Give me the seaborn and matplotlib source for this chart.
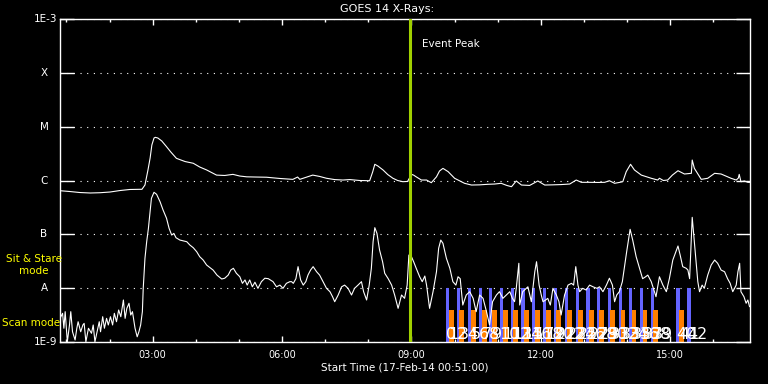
import matplotlib
matplotlib.use("Agg")
import matplotlib.pyplot as plt
import matplotlib.transforms as mtransforms
from matplotlib.ticker import FixedLocator, NullLocator
import seaborn as sns

# ---------------- data ----------------
# GOES 14 long channel (1-8 A), time in hours of 17-Feb-2014, flux in W/m^2
long_time = [0.85, 1.08, 1.31, 1.55, 1.78, 2.01, 2.24, 2.47, 2.70, 2.75, 2.82, 2.89, 2.94, 2.98,
             3.03, 3.06, 3.12, 3.21, 3.32, 3.42, 3.55, 3.75, 3.94, 4.09, 4.25, 4.48, 4.67, 4.86,
             5.02, 5.18, 5.39, 5.64, 5.95, 6.25, 6.36, 6.41, 6.71, 6.87, 7.03, 7.22, 7.41, 7.57,
             7.80, 8.03, 8.10, 8.15, 8.22, 8.34, 8.45, 8.57, 8.68, 8.80, 8.91, 9.00, 9.05, 9.11,
             9.23, 9.35, 9.46, 9.58, 9.65, 9.73, 9.85, 10.00, 10.23, 10.39, 10.58, 10.77, 10.93,
             11.08, 11.21, 11.32, 11.43, 11.55, 11.74, 11.93, 12.09, 12.27, 12.47, 12.67, 12.82,
             12.94, 13.13, 13.32, 13.48, 13.59, 13.71, 13.82, 13.90, 13.98, 14.08, 14.17, 14.33,
             14.56, 14.71, 14.75, 14.84, 14.94, 15.05, 15.18, 15.33, 15.49, 15.51, 15.56, 15.72,
             15.87, 16.03, 16.18, 16.41, 16.53, 16.58, 16.60, 16.64, 16.72, 16.80, 16.84]
long_flux = [6.46e-7, 6.24e-7, 5.98e-7, 5.86e-7, 5.93e-7, 6.11e-7, 6.51e-7, 6.81e-7, 6.86e-7, 6.86e-7,
             8.24e-7, 1.57e-6, 2.62e-6, 4.56e-6, 6.15e-6, 6.34e-6, 6.15e-6, 5.42e-6, 4.25e-6, 3.38e-6,
             2.58e-6, 2.25e-6, 2.09e-6, 1.78e-6, 1.57e-6, 1.26e-6, 1.24e-6, 1.30e-6, 1.21e-6, 1.17e-6,
             1.16e-6, 1.15e-6, 1.09e-6, 1.05e-6, 1.16e-6, 1.05e-6, 1.26e-6, 1.19e-6, 1.10e-6, 1.04e-6,
             1.02e-6, 1.04e-6, 1.00e-6, 9.9e-7, 1.44e-6, 2.00e-6, 1.86e-6, 1.57e-6, 1.29e-6, 1.10e-6,
             1.00e-6, 9.5e-7, 9.6e-7, 1.30e-6, 1.26e-6, 1.17e-6, 1.02e-6, 1.02e-6, 9.1e-7, 1.17e-6,
             1.50e-6, 1.68e-6, 1.46e-6, 1.10e-6, 8.87e-7, 8.24e-7, 8.3e-7, 8.5e-7, 8.6e-7, 8.87e-7,
             8.1e-7, 7.67e-7, 9.8e-7, 8.24e-7, 8.1e-7, 9.8e-7, 8.24e-7, 8.3e-7, 8.4e-7, 8.6e-7,
             1.02e-6, 9.25e-7, 9.25e-7, 9.2e-7, 9.25e-7, 9.9e-7, 8.87e-7, 9.2e-7, 9.5e-7, 1.46e-6,
             2.00e-6, 1.57e-6, 1.26e-6, 1.10e-6, 1.02e-6, 1.10e-6, 1.00e-6, 1.02e-6, 1.26e-6, 1.52e-6,
             1.32e-6, 1.36e-6, 2.40e-6, 1.68e-6, 1.05e-6, 1.10e-6, 1.36e-6, 1.32e-6, 1.10e-6, 1.02e-6,
             1.11e-6, 1.30e-6, 9.5e-7, 9.8e-7, 9.25e-7, 9.2e-7]

# GOES 14 short channel (0.5-4 A)
short_time = [0.85, 0.91, 0.94, 0.97, 1.02, 1.07, 1.10, 1.14, 1.20, 1.24, 1.27, 1.33, 1.38, 1.41,
              1.45, 1.51, 1.58, 1.62, 1.66, 1.71, 1.76, 1.79, 1.84, 1.88, 1.93, 1.97, 2.02, 2.07,
              2.11, 2.16, 2.21, 2.26, 2.32, 2.36, 2.40, 2.45, 2.49, 2.53, 2.59, 2.64, 2.68, 2.72,
              2.76, 2.78, 2.82, 2.86, 2.90, 2.94, 2.97, 3.03, 3.09, 3.17, 3.24, 3.32, 3.38, 3.44,
              3.49, 3.54, 3.63, 3.79, 3.86, 3.94, 4.02, 4.09, 4.17, 4.25, 4.33, 4.40, 4.49, 4.60,
              4.67, 4.75, 4.81, 4.87, 4.94, 5.02, 5.08, 5.14, 5.19, 5.25, 5.31, 5.37, 5.44, 5.52,
              5.60, 5.68, 5.79, 5.87, 5.95, 6.02, 6.10, 6.18, 6.22, 6.26, 6.32, 6.37, 6.43, 6.49,
              6.55, 6.60, 6.66, 6.72, 6.80, 6.87, 6.95, 7.03, 7.11, 7.17, 7.22, 7.30, 7.38, 7.45,
              7.53, 7.61, 7.68, 7.76, 7.84, 7.89, 7.96, 8.02, 8.07, 8.11, 8.15, 8.20, 8.26, 8.33,
              8.38, 8.46, 8.54, 8.61, 8.69, 8.77, 8.84, 8.90, 8.94, 9.00, 9.05, 9.11, 9.19, 9.25,
              9.31, 9.35, 9.42, 9.50, 9.58, 9.63, 9.68, 9.73, 9.81, 9.89, 9.96, 10.03, 10.08, 10.13,
              10.19, 10.27, 10.35, 10.43, 10.50, 10.58, 10.66, 10.74, 10.81, 10.88, 10.97, 11.04,
              11.12, 11.20, 11.28, 11.34, 11.39, 11.43, 11.49, 11.51, 11.58, 11.70, 11.78, 11.86,
              11.90, 11.96, 12.01, 12.05, 12.11, 12.16, 12.22, 12.28, 12.36, 12.42, 12.47, 12.55,
              12.63, 12.71, 12.76, 12.81, 12.86, 12.90, 12.97, 13.05, 13.13, 13.21, 13.30, 13.36,
              13.44, 13.52, 13.59, 13.66, 13.71, 13.76, 13.82, 13.89, 13.94, 13.99, 14.07, 14.13,
              14.21, 14.29, 14.36, 14.43, 14.48, 14.56, 14.67, 14.75, 14.83, 14.91, 14.98, 15.06,
              15.18, 15.23, 15.29, 15.37, 15.41, 15.45, 15.51, 15.56, 15.60, 15.64, 15.68, 15.74,
              15.79, 15.87, 15.95, 16.03, 16.10, 16.18, 16.26, 16.33, 16.39, 16.45, 16.53, 16.57,
              16.61, 16.64, 16.71, 16.76, 16.80, 16.84]
short_flux = [2.75e-9, 3.41e-9, 1.80e-9, 3.66e-9, 1.01e-9, 2.07e-9, 3.66e-9, 1.55e-9, 1.09e-9, 1.80e-9,
              2.38e-9, 1.55e-9, 2.07e-9, 2.22e-9, 1.01e-9, 1.80e-9, 1.45e-9, 2.07e-9, 1.01e-9, 1.55e-9,
              2.38e-9, 1.55e-9, 2.95e-9, 1.80e-9, 2.75e-9, 2.07e-9, 2.95e-9, 2.07e-9, 3.41e-9, 2.38e-9,
              3.93e-9, 2.95e-9, 6.03e-9, 2.75e-9, 4.22e-9, 5.24e-9, 3.17e-9, 3.66e-9, 1.80e-9, 1.25e-9,
              1.55e-9, 2.07e-9, 3.66e-9, 9.93e-9, 3.58e-8, 7.29e-8, 1.29e-7, 2.63e-7, 4.67e-7, 6.04e-7,
              5.54e-7, 4.04e-7, 2.83e-7, 1.99e-7, 1.29e-7, 9.70e-8, 1.04e-7, 8.65e-8, 7.83e-8, 7.29e-8,
              6.34e-8, 5.64e-8, 4.75e-8, 3.84e-8, 3.33e-8, 2.69e-8, 2.40e-8, 2.17e-8, 1.75e-8, 1.48e-8,
              1.53e-8, 1.75e-8, 2.17e-8, 2.34e-8, 1.89e-8, 1.63e-8, 1.23e-8, 1.42e-8, 1.14e-8, 1.42e-8,
              1.06e-8, 1.29e-8, 9.93e-9, 1.32e-8, 1.53e-8, 1.50e-8, 1.32e-8, 1.06e-8, 1.14e-8, 9.93e-9,
              1.23e-8, 1.32e-8, 1.32e-8, 1.23e-8, 1.50e-8, 2.51e-8, 1.42e-8, 1.14e-8, 1.32e-8, 1.75e-8,
              2.17e-8, 2.51e-8, 2.02e-8, 1.75e-8, 1.32e-8, 9.93e-9, 8.6e-9, 6.94e-9, 5.60e-9, 7.46e-9,
              1.06e-8, 1.14e-8, 9.93e-9, 7.46e-9, 9.93e-9, 1.14e-8, 1.32e-8, 8.6e-9, 6.03e-9, 1.14e-8,
              2.34e-8, 7.29e-8, 1.33e-7, 1.04e-7, 5.12e-8, 3.10e-8, 1.89e-8, 1.50e-8, 1.14e-8, 7.46e-9,
              4.22e-9, 7.46e-9, 6.47e-9, 1.14e-8, 4.13e-8, 3.84e-8, 3.10e-8, 2.34e-8, 1.63e-8, 1.32e-8,
              1.68e-8, 1.14e-8, 4.22e-9, 8.6e-9, 2.02e-8, 5.50e-8, 7.83e-8, 6.81e-8, 3.58e-8, 2.34e-8,
              1.32e-8, 1.14e-8, 1.63e-8, 1.50e-8, 4.86e-9, 7.46e-9, 8.6e-9, 6.47e-9, 3.66e-9, 7.46e-9,
              6.47e-9, 3.66e-9, 2.07e-9, 5.60e-9, 7.46e-9, 8.6e-9, 6.47e-9, 7.46e-9, 8.6e-9, 6.47e-9,
              5.60e-9, 9.93e-9, 2.90e-8, 4.86e-9, 8.6e-9, 1.06e-8, 5.60e-9, 2.02e-8, 3.10e-8, 1.14e-8,
              7.46e-9, 5.60e-9, 6.03e-9, 6.47e-9, 4.86e-9, 9.93e-9, 7.46e-9, 5.60e-9, 3.17e-9, 7.46e-9,
              1.14e-8, 1.23e-8, 1.14e-8, 2.51e-8, 1.14e-8, 8.6e-9, 9.93e-9, 9.24e-9, 1.14e-8, 1.06e-8,
              9.93e-9, 1.06e-8, 8.6e-9, 1.14e-8, 1.53e-8, 1.14e-8, 5.60e-9, 7.46e-9, 8.6e-9, 1.32e-8,
              2.51e-8, 4.75e-8, 1.24e-7, 7.83e-8, 3.84e-8, 2.34e-8, 1.50e-8, 1.63e-8, 1.75e-8, 1.32e-8,
              6.94e-9, 1.63e-8, 1.14e-8, 8.6e-9, 1.50e-8, 3.33e-8, 6.07e-8, 4.13e-8, 2.51e-8, 2.34e-8,
              2.17e-8, 1.50e-8, 2.07e-7, 7.29e-8, 3.10e-8, 1.32e-8, 8.6e-9, 1.14e-8, 9.93e-9, 1.75e-8,
              2.69e-8, 3.33e-8, 2.90e-8, 2.17e-8, 2.02e-8, 1.50e-8, 1.23e-8, 8.6e-9, 1.14e-8, 2.02e-8,
              2.90e-8, 8.6e-9, 6.94e-9, 5.24e-9, 6.03e-9, 4.52e-9]

# observation markers (start hour of each bar)
blue_start = [9.793, 10.048, 10.303, 10.558, 10.790, 11.045, 11.299, 11.547, 11.786, 12.041, 12.296,
              12.551, 12.805, 13.053, 13.292, 13.547, 13.802, 14.033, 14.288, 14.543, 15.145, 15.394]
orange_start = [9.863, 10.095, 10.373, 10.628, 10.860, 11.115, 11.346, 11.601, 11.856, 12.111, 12.354,
                12.597, 12.852, 13.107, 13.350, 13.593, 13.848, 14.103, 14.358, 14.601, 15.203]
blue_labels = [str(n) for n in range(0, 43, 2)]
orange_labels = [str(n) for n in range(1, 42, 2)]
blue_top = 1e-8
orange_top = 4e-9

event_time = 8.976
x_start, x_end = 0.85, 16.85
major_hours = [3, 6, 9, 12, 15]
major_labels = ["03:00", "06:00", "09:00", "12:00", "15:00"]
minor_hours = list(range(1, 17))
level_values = [1e-9, 1e-8, 1e-7, 1e-6, 1e-5, 1e-4, 1e-3]
level_labels = ["1E-9", "A", "B", "C", "M", "X", "1E-3"]

title_text = "GOES 14 X-Rays:"
xlabel_text = "Start Time (17-Feb-14 00:51:00)"

# ---------------- drawing ----------------
sns.set_theme(style="dark", rc={"axes.facecolor": "black", "figure.facecolor": "black",
                                "savefig.facecolor": "black", "text.color": "white"})
plt.rcParams["font.family"] = ["DejaVu Sans"]

W, H = 768, 384
fig = plt.figure(figsize=(W / 100, H / 100), dpi=100)
ax = fig.add_axes([60 / W, 42 / H, 690 / W, 323 / H])
ax.set_facecolor("black")

blue_c = "#6464ff"
orange_c = "#ff8000"
ax.set_yscale("log")
ax.bar(blue_start, [blue_top - 1e-9] * len(blue_start), bottom=1e-9, width=0.085,
       align="edge", color=blue_c, linewidth=0, zorder=1)
ax.bar(orange_start, [orange_top - 1e-9] * len(orange_start), bottom=1e-9, width=0.115,
       align="edge", color=orange_c, linewidth=0, zorder=1)

sns.lineplot(x=long_time, y=long_flux, ax=ax, color="white", linewidth=0.8,
             estimator=None, sort=False, zorder=3)
sns.lineplot(x=short_time, y=short_flux, ax=ax, color="white", linewidth=0.8,
             estimator=None, sort=False, zorder=3)

ax.axvline(event_time, color="#a0d000", linewidth=2.2, zorder=4)
ax.annotate("Event Peak", xy=(event_time, 0.924), xycoords=("data", "axes fraction"),
            xytext=(8, 0), textcoords="offset points", ha="left", va="center",
            color="white", fontsize=7.5, zorder=5)

lbl_tr = mtransforms.blended_transform_factory(ax.transData, ax.transAxes)
for xs, labs in ((blue_start, blue_labels), (orange_start, orange_labels)):
    for xv, lab in zip(xs, labs):
        ax.text(xv, 0.008, lab, transform=lbl_tr, ha="left", va="baseline",
                color="white", fontsize=11.5, zorder=6)

ax.set_xlim(x_start, x_end)
ax.set_ylim(level_values[0], level_values[-1])

ax.set_yticks(level_values)
ax.yaxis.set_minor_locator(NullLocator())
ax.tick_params(axis="y", which="major", direction="in", length=10, width=1,
               color="white", left=True, right=True, labelleft=False)
ax.set_xticks(major_hours)
ax.set_xticklabels(major_labels)
ax.xaxis.set_minor_locator(FixedLocator(minor_hours))
ax.tick_params(axis="x", which="major", direction="in", length=4.5, width=1, color="white",
               top=True, bottom=True, labelcolor="white", labelsize=7, pad=6)
ax.tick_params(axis="x", which="minor", direction="in", length=2.5, width=1, color="white",
               top=True, bottom=True)

ax.grid(False)
ax.yaxis.grid(True, which="major", color="white", linestyle=(0, (1, 5)), linewidth=0.8)
for sp in ax.spines.values():
    sp.set_color("white")
    sp.set_linewidth(1.0)
    sp.set_visible(True)

ylab_tr = mtransforms.blended_transform_factory(fig.transFigure, ax.transData)
for v, lab in zip(level_values, level_labels):
    if lab.startswith("1E"):
        fig.text(57 / W, v, lab, transform=ylab_tr, ha="right", va="center",
                 color="white", fontsize=7.5)
    else:
        fig.text(44 / W, v, lab, transform=ylab_tr, ha="center", va="center",
                 color="white", fontsize=7.5)

fig.text(34 / W, 1 - 265 / H, "Sit & Stare\nmode", ha="center", va="center",
         multialignment="center", color="yellow", fontsize=7.5, linespacing=1.15)
fig.text(2 / W, 1 - 323 / H, "Scan mode", ha="left", va="center", color="yellow", fontsize=7.5)

fig.text(387 / W, 1 - 9 / H, title_text, ha="center", va="center", color="white", fontsize=8)
fig.text(405 / W, 1 - 368 / H, xlabel_text, ha="center", va="center", color="white", fontsize=7.5)

fig.savefig("out.png", dpi=100, facecolor="black")
